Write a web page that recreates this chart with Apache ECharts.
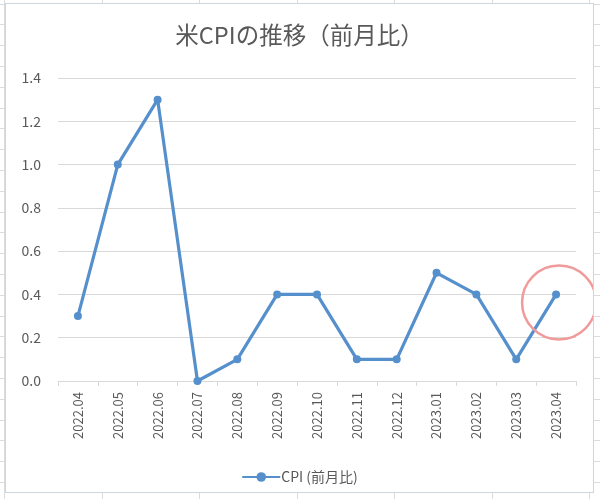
<!DOCTYPE html>
<html>
<head>
<meta charset="utf-8">
<script src="https://cdn.jsdelivr.net/npm/echarts@6/dist/echarts.min.js"></script>
<style>
  html, body { margin: 0; padding: 0; }
  body {
    width: 600px; height: 499px; position: relative; overflow: hidden;
    background-color: #ffffff;
    background-image:
      repeating-linear-gradient(to bottom, transparent 0px, transparent 3.6px, #dcdcdc 3.6px, #dcdcdc 4.6px, transparent 4.6px, transparent 20.8px),
      repeating-linear-gradient(to right, transparent 0px, transparent 4.5px, #dcdcdc 4.5px, #dcdcdc 5.5px, transparent 5.5px, transparent 97.5px);
  }
  #chart {
    position: absolute; left: 5px; top: 3px; width: 587px; height: 488px;
    background: #ffffff; border: 1px solid #cdd5de;
  }
</style>
</head>
<body>
<div id="chart"></div>
<script>
const categories = ['2022.04','2022.05','2022.06','2022.07','2022.08','2022.09','2022.10','2022.11','2022.12','2023.01','2023.02','2023.03','2023.04'];
const cpiMoM = [0.3, 1.0, 1.3, 0.0, 0.1, 0.4, 0.4, 0.1, 0.1, 0.5, 0.4, 0.1, 0.4];
const yTicks = { min: 0, max: 1.4, interval: 0.2 };
const titleText = '米CPIの推移（前月比）';
const seriesName = 'CPI (前月比)';
const highlightIndex = 12;

const font = '"Noto Sans CJK JP", "Noto Sans", sans-serif';
const textColor = '#595959';
const lineColor = '#5590cc';

const chart = echarts.init(document.getElementById('chart'), null, { renderer: 'canvas' });
chart.setOption({
  animation: false,
  backgroundColor: 'transparent',
  title: {
    text: titleText,
    left: 'center',
    top: 19,
    padding: 0,
    textStyle: { fontFamily: font, fontSize: 23.5, fontWeight: 'normal', color: textColor }
  },
  legend: {
    data: [seriesName],
    left: 'center',
    top: 461,
    itemWidth: 38,
    itemHeight: 12,
    itemGap: 0,
    textStyle: { fontFamily: font, fontSize: 14, color: textColor, padding: [0, 0, 0, -4] }
  },
  grid: { left: 52, right: 17, top: 74, bottom: 111, containLabel: false },
  xAxis: {
    type: 'category',
    data: categories,
    boundaryGap: true,
    axisLine: { show: true, lineStyle: { color: '#d9d9d9', width: 1 } },
    axisTick: { show: true, length: 5, inside: false, lineStyle: { color: '#d9d9d9' } },
    axisLabel: {
      rotate: 90,
      margin: 11,
      fontFamily: font,
      fontSize: 13,
      color: textColor,
      interval: 0
    },
    splitLine: { show: false }
  },
  yAxis: {
    type: 'value',
    min: yTicks.min,
    max: yTicks.max,
    interval: yTicks.interval,
    axisLine: { show: false },
    axisTick: { show: false },
    axisLabel: {
      margin: 17,
      fontFamily: font,
      fontSize: 14,
      color: textColor,
      formatter: v => v.toFixed(1)
    },
    splitLine: { show: true, lineStyle: { color: '#d9d9d9', width: 1 } }
  },
  series: [{
    name: seriesName,
    type: 'line',
    data: cpiMoM,
    symbol: 'circle',
    symbolSize: 8,
    lineStyle: { color: lineColor, width: 3.2 },
    itemStyle: { color: lineColor },
    markPoint: {
      silent: true,
      symbol: 'circle',
      symbolSize: 74,
      symbolOffset: [3, 8],
      itemStyle: { color: 'transparent', borderColor: '#f09a9a', borderWidth: 2.5 },
      label: { show: false },
      data: [{ coord: [categories[highlightIndex], cpiMoM[highlightIndex]] }]
    }
  }]
});
</script>
</body>
</html>
